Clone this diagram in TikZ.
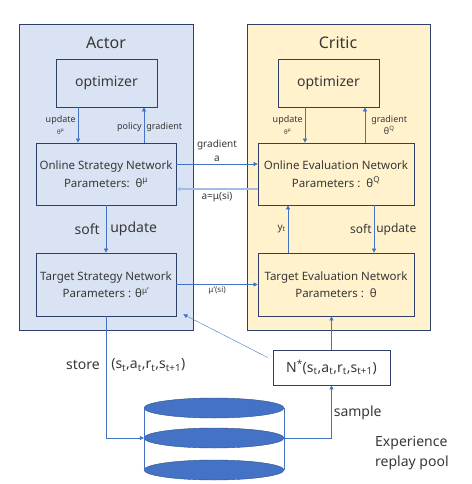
\documentclass[tikz,border=0pt]{standalone}
\usepackage{fontspec}
\setmainfont{Noto Sans}
\usetikzlibrary{shapes,arrows.meta,calc,positioning}
\definecolor{actorbg}{HTML}{DAE3F3}
\definecolor{criticbg}{HTML}{FFF2CC}
\definecolor{frame}{HTML}{2F4068}
\definecolor{link}{HTML}{4472C4}
\definecolor{linklight}{HTML}{A3BCE6}
\definecolor{txt}{HTML}{383838}
\definecolor{diskblue}{HTML}{4472C4}

\begin{document}
\begin{tikzpicture}[x=1pt, y=-1pt, every node/.style={text=txt, inner sep=2pt},
    panel/.style={draw=frame, line width=0.8pt, minimum width=#1, minimum height=306pt},
    box/.style={draw=frame, line width=0.7pt, align=center, font=\fontsize{11.5}{17.5}\selectfont},
    arr/.style={draw=link, line width=0.6pt, -{Triangle[length=4pt,width=4pt]}},
    lbl/.style={font=\fontsize{9}{12}\selectfont, align=center},
    big/.style={font=\fontsize{14}{20}\selectfont, align=left},
    disk/.style={ellipse, draw=link!70!black, line width=0.4pt, fill=diskblue, minimum width=140pt, minimum height=20pt, inner sep=0pt}]
    \useasboundingbox (0,0) rectangle (471,484);

    \node[panel=174pt, fill=actorbg] (actor) at (106,177) {};
    \node[panel=183pt, fill=criticbg] (critic) at (338.5,177) {};
    \node[font=\fontsize{16}{18}\selectfont] (actorname) at (106,43) {Actor};
    \node[font=\fontsize{16}{18}\selectfont] (criticname) at (338,43) {Critic};

    \node[box, minimum width=101pt, minimum height=48pt, font=\fontsize{14}{16}\selectfont] (aopt) at (106.5,83) {optimizer};
    \node[box, minimum width=101pt, minimum height=48pt, font=\fontsize{14}{16}\selectfont] (copt) at (328.5,83) {optimizer};
    \node[box, minimum width=140pt, minimum height=62pt] (son) at (106,174) {Online Strategy Network\\Parameters:\ \ θ\textsuperscript{μ}};
    \node[box, minimum width=156pt, minimum height=62pt] (eon) at (336,174) {Online Evaluation Network\\Parameters :\ \ θ\textsuperscript{Q}};
    \node[box, minimum width=140pt, minimum height=63pt] (star) at (106,284.5) {Target Strategy Network\\Parameters : θ\textsuperscript{μ'}};
    \node[box, minimum width=156pt, minimum height=63pt] (etar) at (336,284.5) {Target Evaluation Network\\Parameters :\ \ θ};
    \node[box, minimum width=117pt, minimum height=35pt, font=\fontsize{14}{16}\selectfont] (batch) at (331.5,367.5) {N\textsuperscript{*}(s\textsubscript{t},a\textsubscript{t},r\textsubscript{t},s\textsubscript{t+1})};

    % replay pool
    \node[disk] (d1) at (214,408) {};
    \node[disk] (d2) at (214,438) {};
    \node[disk] (d3) at (214,470) {};
    \draw[link, line width=0.6pt] (d1.west) -- (d3.west) (d1.east) -- (d3.east);
    \node[big, anchor=west] (pool) at (373,453) {Experience\\replay pool};

    \draw[arr] ([xshift=-28pt]son.north |- aopt.south) -- node[lbl,left] (l1) {update\\{\fontsize{6}{7}\selectfont θ\textsuperscript{μ}}} ([xshift=-28pt]son.north);
    \draw[arr] ([xshift=38pt]son.north) -- node[lbl,pos=0.45,left] (l2) {policy} node[lbl,pos=0.45,right] (l3) {gradient} ([xshift=38pt]son.north |- aopt.south);
    \draw[arr] ([xshift=-23.5pt]copt.south) -- node[lbl,left] (l4) {update\\{\fontsize{6}{7}\selectfont θ\textsuperscript{μ}}} ([xshift=-23.5pt]copt.south |- eon.north);
    \draw[arr] ([xshift=36.5pt]copt.south |- eon.north) -- node[lbl,right,xshift=4pt] (l5) {gradient\\θ\textsuperscript{Q}} ([xshift=36.5pt]copt.south);

    \draw[arr] ([yshift=10pt]son.east) -- node[lbl,above,font=\fontsize{10}{14}\selectfont] (l6) {gradient\\a} ([yshift=10pt]son.east -| eon.west);
    \draw[arr, draw=linklight, line width=1.3pt] ([yshift=-15pt]eon.west) -- node[lbl,below,font=\fontsize{10}{12}\selectfont] (l7) {a=μ(si)} ([yshift=-15pt]eon.west -| son.east);

    \draw[arr] (son.south) -- node[big,left,inner sep=6pt] (l8) {soft} node[big,right,inner sep=4pt] (l9) {update} (star.north);
    \draw[arr] ([xshift=-48pt]etar.north) -- node[lbl,left,font=\fontsize{10}{12}\selectfont] (l10) {y\textsubscript{t}} ([xshift=-48pt]etar.north |- eon.south);
    \draw[arr] ([xshift=38pt]eon.south) -- node[big,left,font=\fontsize{12}{14}\selectfont] (l11) {soft} node[big,right,font=\fontsize{12}{14}\selectfont] (l12) {update} ([xshift=38pt]eon.south |- etar.north);
    \draw[arr] (star.east) -- node[lbl,below,font=\fontsize{8}{10}\selectfont] (l13) {μ'(si)} (star.east -| etar.west);

    \draw[arr] (batch.north) -- (batch.north |- etar.south);
    \draw[arr, line width=0.4pt] ([xshift=-5pt,yshift=10pt]batch.west) -- ([xshift=7pt,yshift=2pt]star.south east);

    \draw[arr] (star.south) -- node[pos=0.4,left,big,inner sep=6pt] (l14) {store} node[pos=0.4,right,big,inner sep=5pt] (l15) {(s\textsubscript{t},a\textsubscript{t},r\textsubscript{t},s\textsubscript{t+1})} (star.south |- d2.west) -- (d2.west);
    \draw[arr] (d2.east) -| node[pos=0.74,right,big] (l16) {sample} (batch.south);
\end{tikzpicture}
\end{document}
